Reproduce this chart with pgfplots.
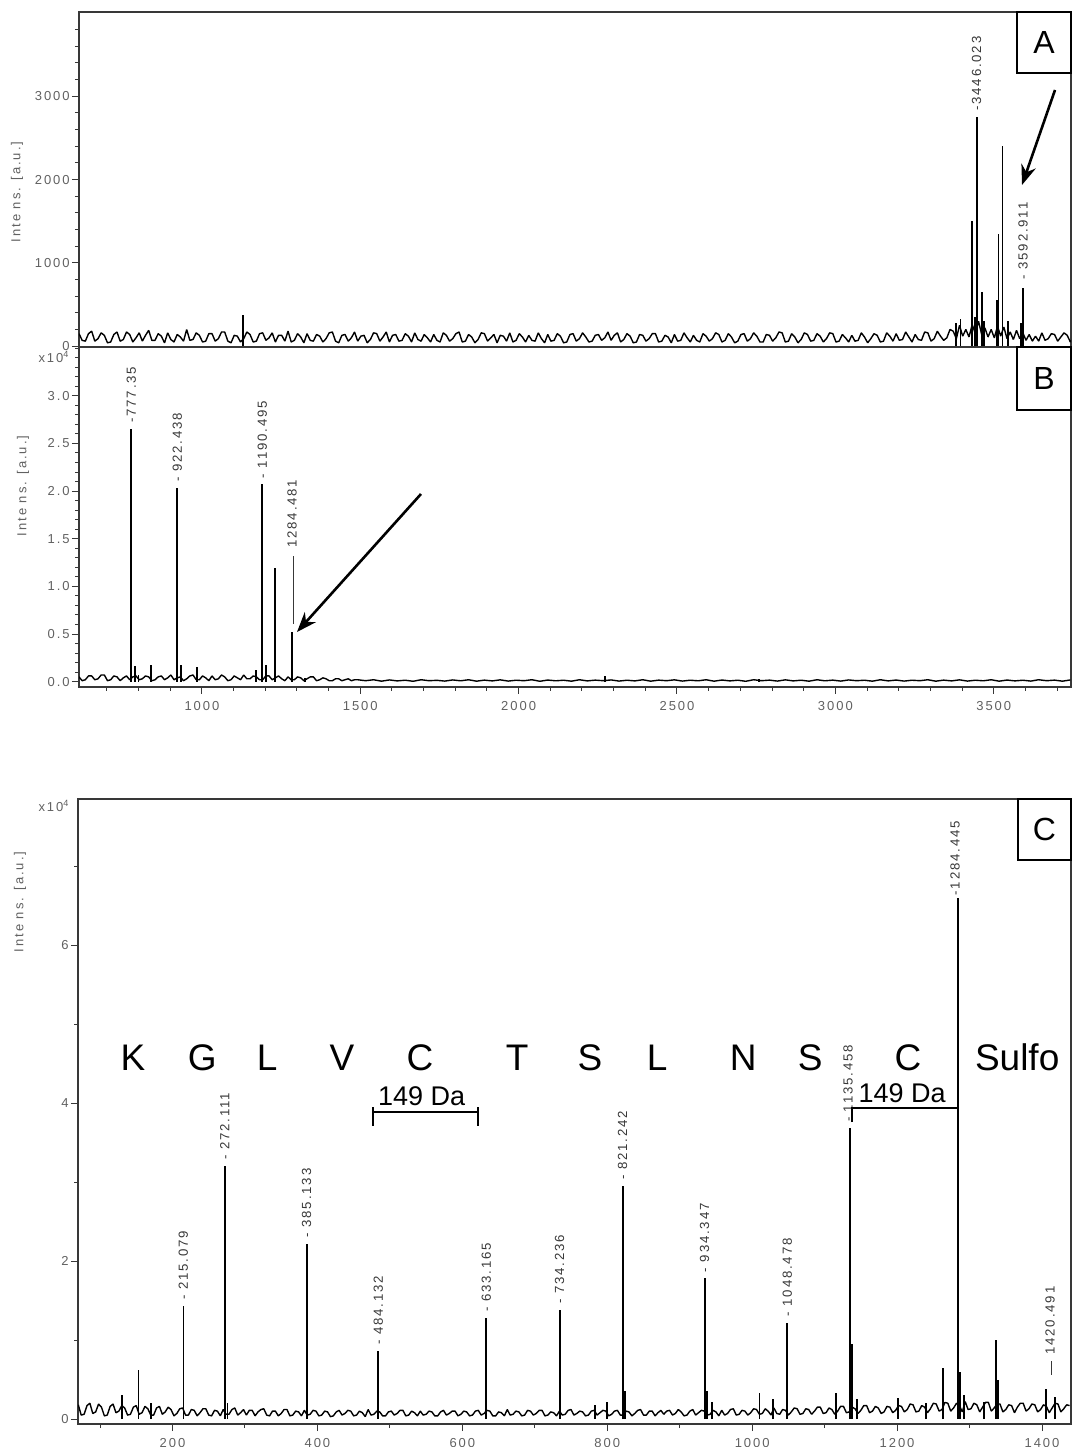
\documentclass[border=0pt]{standalone}
\usepackage{fontspec}
\setmainfont{Liberation Sans}
\newfontfamily\spc[LetterSpace=15]{Liberation Sans}
\newfontfamily\pks[LetterSpace=14]{Liberation Sans}
\usepackage{pgfplots}
\pgfplotsset{compat=1.18}
\usetikzlibrary{arrows.meta}

\definecolor{axgray}{gray}{0.22}
\definecolor{lblgray}{gray}{0.38}
\newcommand{\tickf}{\spc\fontsize{6.5}{7}\selectfont}
\newcommand{\pkf}{\pks\fontsize{6.6}{7}\selectfont}

\pgfplotsset{
  specaxis/.style={
    scale only axis,
    anchor=south west,
    axis line style={axgray, line width=0.6pt},
    tick style={axgray, line width=0.5pt},
    tick align=outside,
    xtick pos=bottom, ytick pos=left,
    major tick length=3.5pt, minor tick length=2pt,
    ticklabel style={font=\tickf, text=lblgray},
    yticklabel style={inner sep=1pt},
    /pgf/number format/assume math mode=true,
    /pgf/number format/1000 sep={},
    scaled ticks=false,
    clip=true,
  },
  noise/.style={black, line width=0.7pt, line join=bevel, mark=none},
  peaks/.style={black, ycomb, line width=0.9pt, mark=none},
}
\tikzset{
  pk/.style={rotate=90, anchor=west, inner xsep=3pt, inner ysep=0pt, font=\pkf, text=black!78},
  seq/.style={anchor=base, font=\fontsize{18.5}{20}\selectfont, inner sep=0pt},
  da/.style={anchor=base, font=\fontsize{13.5}{15}\selectfont, inner sep=0pt},
}

\begin{document}
\begin{tikzpicture}

% ---------------- Panel A ----------------
\begin{axis}[specaxis, at={(39.5pt,550pt)}, width=496pt, height=167.5pt,
  xmin=612, xmax=3744, ymin=-10, ymax=4012,
  xtick=\empty, ytick={0,1000,2000,3000}, minor ytick={200,400,...,3800}]
\addplot[noise] coordinates {
(612,150)(622,70)(632,60)(642,150)(652,180)(662,60)(672,90)(682,160)(692,130)(702,40)(712,50)(722,140)(732,170)(742,60)(752,80)(762,170)(772,140)(782,50)(792,100)(802,160)(812,60)(822,130)(832,190)(842,70)(852,70)(862,150)(872,120)(882,40)(892,160)(902,80)(912,50)(922,140)(932,110)(942,60)(952,200)(962,70)(972,80)(982,160)(992,130)(1002,50)(1012,60)(1022,150)(1032,150)(1042,60)(1052,90)(1062,170)(1072,170)(1082,60)(1092,40)(1102,130)(1112,120)(1122,50)
(1132,90)(1142,170)(1152,140)(1162,50)(1172,60)(1182,150)(1192,160)(1202,70)(1212,100)(1222,160)(1232,50)(1242,130)(1252,130)(1262,60)(1272,180)(1282,50)(1292,70)(1302,150)(1312,110)(1322,40)(1332,150)(1342,70)(1352,60)(1362,140)(1372,120)(1382,50)(1392,90)(1402,160)(1412,170)(1422,60)(1432,40)(1442,130)(1452,140)(1462,60)(1472,100)(1482,170)(1492,60)(1502,120)(1512,130)(1522,40)(1532,80)(1542,160)(1552,150)(1562,60)(1572,110)(1582,170)(1592,50)(1602,130)(1612,140)(1622,60)
(1632,70)(1642,150)(1652,120)(1662,50)(1672,160)(1682,80)(1692,60)(1702,140)(1712,100)(1722,50)(1732,140)(1742,70)(1752,50)(1762,160)(1772,130)(1782,60)(1792,90)(1802,150)(1812,170)(1822,50)(1832,60)(1842,140)(1852,110)(1862,40)(1872,80)(1882,160)(1892,150)(1902,60)(1912,100)(1922,140)(1932,40)(1942,130)(1952,120)(1962,60)(1972,160)(1982,50)(1992,70)(2002,150)(2012,110)(2022,50)(2032,130)(2042,70)(2052,60)(2062,160)(2072,90)(2082,40)(2092,140)(2102,60)(2112,70)(2122,150)
(2132,120)(2142,40)(2152,50)(2162,140)(2172,150)(2182,60)(2192,90)(2202,160)(2212,110)(2222,50)(2232,60)(2242,130)(2252,140)(2262,70)(2272,100)(2282,170)(2292,70)(2302,130)(2312,160)(2322,50)(2332,80)(2342,150)(2352,120)(2362,40)(2372,50)(2382,140)(2392,130)(2402,60)(2412,90)(2422,150)(2432,150)(2442,50)(2452,60)(2462,130)(2472,110)(2482,40)(2492,140)(2502,60)(2512,70)(2522,160)(2532,100)(2542,50)(2552,130)(2562,70)(2572,50)(2582,150)(2592,120)(2602,60)(2612,90)(2622,160)
(2632,140)(2642,50)(2652,70)(2662,150)(2672,110)(2682,40)(2692,60)(2702,140)(2712,150)(2722,60)(2732,90)(2742,160)(2752,120)(2762,50)(2772,50)(2782,140)(2792,130)(2802,60)(2812,100)(2822,170)(2832,160)(2842,50)(2852,60)(2862,150)(2872,110)(2882,40)(2892,80)(2902,160)(2912,140)(2922,60)(2932,70)(2942,150)(2952,120)(2962,50)(2972,90)(2982,160)(2992,150)(3002,50)(3012,60)(3022,140)(3032,100)(3042,50)(3052,130)(3062,60)(3072,70)(3082,160)(3092,110)(3102,40)(3112,90)(3122,150)
(3132,130)(3142,50)(3152,60)(3162,160)(3172,120)(3182,60)(3192,150)(3202,70)(3212,80)(3222,170)(3232,110)(3242,50)(3252,140)(3262,80)(3272,70)(3282,170)(3292,160)(3302,60)(3312,90)(3322,180)(3332,120)(3342,70)(3352,100)(3362,200)(3372,180)(3382,90)(3392,250)(3402,120)(3412,200)(3422,110)(3432,260)(3442,150)(3452,300)(3462,140)(3472,220)(3482,110)(3492,200)(3502,100)(3512,240)(3522,120)(3532,230)(3542,90)(3552,170)(3562,80)(3572,190)(3582,90)(3592,160)(3602,70)(3612,140)(3622,60)
(3632,120)(3642,60)(3652,160)(3662,70)(3672,90)(3682,150)(3692,140)(3702,60)(3712,110)(3722,160)(3732,130)(3742,50)(3752,100)
};
\addplot[peaks] coordinates {
(1129,380)(3380,280)(3395,330)(3432,1500)(3440,350)(3446.023,2750)(3462,650)(3470,300)
(3510,550)(3515,1350)(3528,2400)(3545,300)(3585,280)(3592.911,700)
};
\node[pk] at (axis cs:3446.023,2750) {-3446.023};
\node[pk, inner xsep=4pt] at (axis cs:3592.911,700) {- 3592.911};
\end{axis}

% ---------------- Panel B ----------------
\begin{axis}[specaxis, at={(39.5pt,380pt)}, width=496pt, height=170pt,
  xmin=612, xmax=3744, ymin=-0.056, ymax=3.512,
  xtick={1000,1500,...,3500}, minor xtick={700,800,...,3700},
  ytick={0,0.5,...,3}, minor ytick={0.1,0.2,...,3.5},
  yticklabel style={/pgf/number format/fixed, /pgf/number format/fixed zerofill, /pgf/number format/precision=1}]
\addplot[noise] coordinates {
(612,0.05)(622,0.01)(632,0.02)(642,0.06)(652,0.06)(662,0.02)(672,0.03)(682,0.07)(692,0.07)(702,0.01)(712,0.02)(722,0.06)(732,0.05)(742,0.01)(752,0.04)(762,0.06)(772,0.02)(782,0.05)(792,0.06)(802,0.02)(812,0.03)(822,0.06)(832,0.05)(842,0.01)(852,0.02)(862,0.05)(872,0.06)(882,0.02)(892,0.04)(902,0.07)(912,0.02)(922,0.04)(932,0.05)(942,0.01)(952,0.03)(962,0.06)(972,0.07)(982,0.02)(992,0.02)(1002,0.06)(1012,0.04)(1022,0.01)(1032,0.06)(1042,0.02)(1052,0.03)(1062,0.07)(1072,0.05)(1082,0.01)(1092,0.02)(1102,0.06)(1112,0.04)(1122,0.02)(1132,0.07)(1142,0.03)(1152,0.03)(1162,0.06)(1172,0.05)(1182,0.02)(1192,0.02)(1202,0.06)(1212,0.06)(1222,0.02)(1232,0.04)(1242,0.06)(1252,0.03)(1262,0.01)(1272,0.05)(1282,0.02)(1292,0.02)(1302,0.05)(1312,0.04)(1322,0.01)(1332,0.03)(1342,0.05)(1352,0.05)(1362,0.01)(1372,0.02)(1382,0.04)(1392,0.03)(1402,0.01)(1412,0.01)(1422,0.03)(1432,0.03)(1442,0.01)(1452,0.02)(1462,0.03)(1472,0.01)(1482,0.02)(1492,0.02)
(1517,0.01)(1542,0.02)(1567,0.005)(1592,0.018)(1617,0.008)(1642,0.015)(1667,0.004)(1692,0.02)(1717,0.01)(1742,0.014)
(1767,0.006)(1792,0.018)(1817,0.009)(1842,0.02)(1867,0.005)(1892,0.016)(1917,0.008)(1942,0.019)(1967,0.006)(1992,0.015)
(2017,0.01)(2042,0.02)(2067,0.004)(2092,0.017)(2117,0.009)(2142,0.015)(2167,0.005)(2192,0.02)(2217,0.008)(2242,0.016)
(2267,0.01)(2292,0.018)(2317,0.006)(2342,0.015)(2367,0.008)(2392,0.02)(2417,0.005)(2442,0.016)(2467,0.01)(2492,0.019)
(2517,0.006)(2542,0.015)(2567,0.009)(2592,0.02)(2617,0.005)(2642,0.017)(2667,0.008)(2692,0.015)(2717,0.004)(2742,0.02)
(2767,0.01)(2792,0.016)(2817,0.006)(2842,0.019)(2867,0.008)(2892,0.015)(2917,0.005)(2942,0.02)(2967,0.009)(2992,0.016)
(3017,0.006)(3042,0.018)(3067,0.01)(3092,0.015)(3117,0.005)(3142,0.02)(3167,0.008)(3192,0.017)(3217,0.006)(3242,0.015)
(3267,0.01)(3292,0.02)(3317,0.005)(3342,0.016)(3367,0.008)(3392,0.019)(3417,0.006)(3442,0.015)(3467,0.009)(3492,0.02)
(3517,0.005)(3542,0.017)(3567,0.008)(3592,0.015)(3617,0.006)(3642,0.02)(3667,0.01)(3692,0.016)(3717,0.005)(3742,0.018)
};
\addplot[peaks] coordinates {
(777.35,2.65)(789,0.16)(800,0.07)(839,0.18)(922.438,2.03)(934,0.18)(985,0.15)(1172,0.12)
(1190.495,2.07)(1202,0.17)(1232,1.19)(1284.481,0.52)(1325,0.04)(2272,0.06)(2758,0.03)
};
\node[pk] at (axis cs:777.35,2.65) {-777.35};
\node[pk] at (axis cs:922.438,2.03) {- 922.438};
\node[pk] at (axis cs:1190.495,2.07) {- 1190.495};
\node[pk, inner xsep=4pt] at (axis cs:1284.481,0.52) {\rule[0.22em]{34pt}{0.4pt}\hspace{4pt}1284.481};
\end{axis}

% ---------------- Panel C ----------------
\begin{axis}[specaxis, at={(39pt,11.5pt)}, width=496.5pt, height=312.5pt,
  xmin=69.6, xmax=1440, ymin=-0.063, ymax=7.85,
  xtick={200,400,...,1400}, minor xtick={100,300,...,1300},
  ytick={0,2,4,6}, minor ytick={1,3,5,7}]
\addplot[noise] coordinates {
(70,0.18)(74,0.05)(78,0.06)(82,0.17)(86,0.20)(90,0.07)(94,0.09)(98,0.19)(102,0.15)(106,0.04)(110,0.05)(114,0.16)(118,0.19)(122,0.08)(126,0.10)(130,0.17)(134,0.14)(138,0.05)(142,0.06)(146,0.15)
(150,0.17)(154,0.06)(158,0.08)(162,0.16)(166,0.13)(170,0.05)(174,0.05)(178,0.14)(182,0.16)(186,0.06)(190,0.09)(194,0.15)(198,0.12)(202,0.04)(206,0.07)(210,0.13)(214,0.14)(218,0.05)(222,0.05)(226,0.12)
(230,0.11)(234,0.04)(238,0.08)(242,0.13)(246,0.13)(250,0.05)(254,0.04)(258,0.11)(262,0.10)(266,0.04)(270,0.12)(274,0.06)(278,0.06)(282,0.12)(286,0.14)(290,0.05)(294,0.08)(298,0.12)(302,0.05)(306,0.11)
(310,0.11)(314,0.04)(318,0.09)(322,0.12)(326,0.13)(330,0.05)(334,0.04)(338,0.10)(342,0.10)(346,0.04)(350,0.07)(354,0.12)(358,0.12)(362,0.04)(366,0.05)(370,0.10)(374,0.09)(378,0.04)(382,0.11)(386,0.05)
(390,0.06)(394,0.11)(398,0.10)(402,0.04)(406,0.05)(410,0.10)(414,0.09)(418,0.03)(422,0.04)(426,0.09)(430,0.11)(434,0.05)(438,0.07)(442,0.11)(446,0.10)(450,0.04)(454,0.05)(458,0.10)(462,0.08)(466,0.03)
(470,0.12)(474,0.05)(478,0.06)(482,0.10)(486,0.09)(490,0.04)(494,0.04)(498,0.09)(502,0.10)(506,0.05)(510,0.07)(514,0.11)(518,0.11)(522,0.04)(526,0.05)(530,0.10)(534,0.08)(538,0.04)(542,0.10)(546,0.05)
(550,0.06)(554,0.10)(558,0.09)(562,0.04)(566,0.04)(570,0.09)(574,0.11)(578,0.05)(582,0.07)(586,0.10)(590,0.10)(594,0.04)(598,0.06)(602,0.10)(606,0.09)(610,0.04)(614,0.05)(618,0.10)(622,0.11)(626,0.05)
(630,0.07)(634,0.11)(638,0.10)(642,0.04)(646,0.04)(650,0.09)(654,0.08)(658,0.04)(662,0.12)(666,0.05)(670,0.06)(674,0.10)(678,0.09)(682,0.04)(686,0.05)(690,0.11)(694,0.10)(698,0.05)(702,0.07)(706,0.11)
(710,0.11)(714,0.04)(718,0.05)(722,0.09)(726,0.08)(730,0.04)(734,0.10)(738,0.05)(742,0.06)(746,0.11)(750,0.12)(754,0.05)(758,0.07)(762,0.10)(766,0.09)(770,0.04)(774,0.05)(778,0.10)(782,0.11)(786,0.05)
(790,0.08)(794,0.11)(798,0.10)(802,0.04)(806,0.06)(810,0.10)(814,0.11)(818,0.05)(822,0.05)(826,0.10)(830,0.09)(834,0.04)(838,0.07)(842,0.11)(846,0.12)(850,0.05)(854,0.05)(858,0.10)(862,0.10)(866,0.04)
(870,0.08)(874,0.11)(878,0.06)(882,0.10)(886,0.11)(890,0.05)(894,0.07)(898,0.12)(902,0.09)(906,0.04)(910,0.05)(914,0.10)(918,0.12)(922,0.05)(926,0.08)(930,0.11)(934,0.10)(938,0.05)(942,0.06)(946,0.11)
(950,0.09)(954,0.04)(958,0.11)(962,0.05)(966,0.07)(970,0.12)(974,0.13)(978,0.05)(982,0.06)(986,0.11)(990,0.10)(994,0.05)(998,0.08)(1002,0.13)(1006,0.12)(1010,0.06)(1014,0.07)(1018,0.13)(1022,0.10)(1026,0.05)
(1030,0.14)(1034,0.07)(1038,0.06)(1042,0.12)(1046,0.11)(1050,0.05)(1054,0.09)(1058,0.14)(1062,0.13)(1066,0.06)(1070,0.07)(1074,0.13)(1078,0.12)(1082,0.06)(1086,0.10)(1090,0.15)(1094,0.15)(1098,0.07)(1102,0.08)(1106,0.14)
(1110,0.12)(1114,0.06)(1118,0.10)(1122,0.16)(1126,0.16)(1130,0.08)(1134,0.09)(1138,0.15)(1142,0.13)(1146,0.07)(1150,0.11)(1154,0.17)(1158,0.17)(1162,0.08)(1166,0.10)(1170,0.16)(1174,0.14)(1178,0.07)(1182,0.09)(1186,0.16)
(1190,0.15)(1194,0.08)(1198,0.11)(1202,0.17)(1206,0.16)(1210,0.09)(1214,0.12)(1218,0.19)(1222,0.18)(1226,0.09)(1230,0.10)(1234,0.17)(1238,0.15)(1242,0.08)(1246,0.13)(1250,0.20)(1254,0.19)(1258,0.10)(1262,0.12)(1266,0.21)
(1270,0.20)(1274,0.10)(1278,0.14)(1282,0.20)(1286,0.17)(1290,0.09)(1294,0.22)(1298,0.12)(1302,0.13)(1306,0.20)(1310,0.18)(1314,0.09)(1318,0.15)(1322,0.21)(1326,0.21)(1330,0.10)(1334,0.14)(1338,0.19)(1342,0.19)(1346,0.09)
(1350,0.12)(1354,0.18)(1358,0.17)(1362,0.08)(1366,0.15)(1370,0.20)(1374,0.20)(1378,0.10)(1382,0.13)(1386,0.19)(1390,0.18)(1394,0.09)(1398,0.12)(1402,0.18)(1406,0.16)(1410,0.08)(1414,0.14)(1418,0.20)(1422,0.19)(1426,0.09)
(1430,0.13)(1434,0.18)(1438,0.17)
};
\addplot[peaks] coordinates {
(130,0.30)(153,0.62)(170,0.20)(215.079,1.43)(272.111,3.20)(276,0.20)(385.133,2.22)(484.132,0.86)
(633.165,1.28)(734.236,1.38)(783,0.18)(800,0.22)(821.242,2.95)(825,0.35)(934.347,1.78)(938,0.35)
(945,0.22)(1010,0.33)(1029,0.25)(1048.478,1.22)(1116,0.33)(1135.458,3.68)(1138,0.95)(1145,0.25)
(1201,0.27)(1240,0.20)(1263,0.64)(1284.445,6.60)(1287,0.60)(1292,0.30)(1320,0.22)(1336,1.00)
(1339,0.50)(1406,0.38)(1418,0.28)
};
\node[pk] at (axis cs:215.079,1.43) {- 215.079};
\node[pk] at (axis cs:272.111,3.20) {- 272.111};
\node[pk] at (axis cs:385.133,2.22) {- 385.133};
\node[pk] at (axis cs:484.132,0.86) {- 484.132};
\node[pk] at (axis cs:633.165,1.28) {- 633.165};
\node[pk] at (axis cs:734.236,1.38) {- 734.236};
\node[pk] at (axis cs:821.242,2.95) {- 821.242};
\node[pk] at (axis cs:934.347,1.78) {- 934.347};
\node[pk] at (axis cs:1048.478,1.22) {- 1048.478};
\node[pk] at (axis cs:1132.5,3.68) {- 1135.458};
\node[pk, inner xsep=1pt] at (axis cs:1280,6.60) {-1284.445};
\node[pk, inner xsep=7pt] at (axis cs:1411,0.38) {\rule[0.22em]{7pt}{0.4pt}\hspace{3pt}1420.491};
% sequence
\node[seq] at (axis cs:145.5,4.41) {K};
\node[seq] at (axis cs:241,4.41) {G};
\node[seq] at (axis cs:330.5,4.41) {L};
\node[seq] at (axis cs:434,4.41) {V};
\node[seq] at (axis cs:541.7,4.41) {C};
\node[seq] at (axis cs:675.6,4.41) {T};
\node[seq] at (axis cs:776,4.41) {S};
\node[seq] at (axis cs:869,4.41) {L};
\node[seq] at (axis cs:987.5,4.41) {N};
\node[seq] at (axis cs:1080,4.41) {S};
\node[seq] at (axis cs:1215,4.41) {C};
\node[seq] at (axis cs:1365.7,4.41) {Sulfo};
% brackets
\draw[line width=1pt] (axis cs:477,3.95) -- (axis cs:477,3.71);
\draw[line width=1pt] (axis cs:622,3.95) -- (axis cs:622,3.71);
\draw[line width=1pt] (axis cs:477,3.886) -- (axis cs:622,3.886);
\node[da] at (axis cs:544,3.97) {149 Da};
\draw[line width=1pt] (axis cs:1138,3.76) -- (axis cs:1138,3.937) -- (axis cs:1284.4,3.937);
\node[da] at (axis cs:1207,4.01) {149 Da};
\end{axis}

% panel boxes
\draw[line width=0.7pt, fill=white] (508.5pt,717.5pt) rectangle (535.5pt,687pt);
\node[font=\fontsize{16}{18}\selectfont] at (522pt,702.2pt) {A};
\draw[line width=0.7pt, fill=white] (508.5pt,550pt) rectangle (535.5pt,518.5pt);
\node[font=\fontsize{16}{18}\selectfont] at (522pt,534.2pt) {B};
\draw[line width=0.7pt, fill=white] (509pt,324pt) rectangle (535.5pt,293.5pt);
\node[font=\fontsize{16}{18}\selectfont] at (522.2pt,308.7pt) {C};

% arrows
\draw[line width=1.3pt, -{Stealth[length=10pt,width=7.5pt]}] (527.5pt,678.5pt) -- (511pt,631pt);
\draw[line width=1.3pt, -{Stealth[length=10pt,width=7.5pt]}] (210.5pt,476.5pt) -- (148.5pt,407.5pt);

% axis labels and multipliers
\node[rotate=90, font=\tickf, text=lblgray] at (8.5pt,627.5pt) {Inte ns. [a.u.]};
\node[rotate=90, font=\tickf, text=lblgray] at (11.5pt,480.5pt) {Inte ns. [a.u.]};
\node[rotate=90, font=\tickf, text=lblgray] at (10pt,272.5pt) {Inte ns. [a.u.]};
\node[font=\tickf, text=lblgray, inner sep=0pt] at (27pt,545pt) {x10\textsuperscript{4}};
\node[font=\tickf, text=lblgray, inner sep=0pt] at (27pt,320.5pt) {x10\textsuperscript{4}};

\pgfresetboundingbox
\path[use as bounding box] (0,0) rectangle (536pt,723.5pt);
\end{tikzpicture}
\end{document}
